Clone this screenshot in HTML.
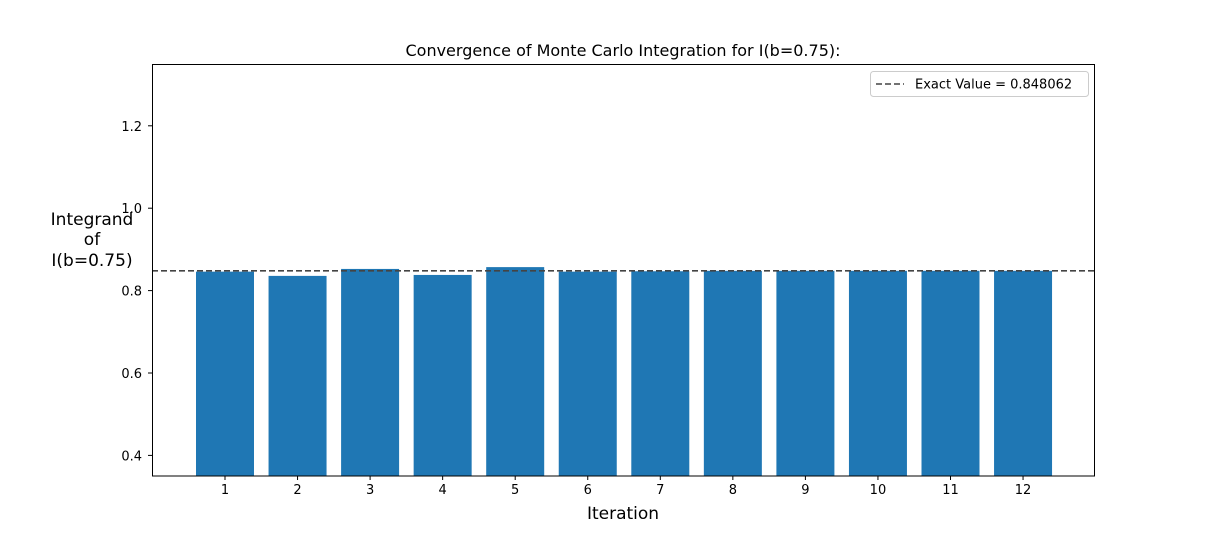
<!DOCTYPE html>
<html><head><meta charset="utf-8"><style>
body{margin:0;background:#fff;font-family:"DejaVu Sans",sans-serif}
</style></head><body>
<svg id="chart" width="1217" height="535" xmlns="http://www.w3.org/2000/svg" font-family="DejaVu Sans, Liberation Sans, sans-serif">
<rect width="1217" height="535" fill="#fff"/>
<text x="623" y="56" font-size="16" text-anchor="middle">Convergence of Monte Carlo Integration for I(b=0.75):</text>
<g id="bars"></g>
<g id="yticks"></g>
<g id="xticks"></g>
<line id="exact" x1="152" x2="1095" stroke="#444" stroke-width="1.6" stroke-dasharray="6,3"/>
<rect x="152.5" y="64.5" width="942" height="411.5" fill="none" stroke="#000" stroke-width="1"/>
<text x="623" y="519" font-size="17" text-anchor="middle">Iteration</text>
<g font-size="17" text-anchor="middle">
<text x="92" y="225">Integrand</text><text x="92" y="245">of</text><text x="92" y="266">I(b=0.75)</text></g>
<g>
<rect x="870.5" y="71.5" width="218" height="25" rx="3" fill="#fff" stroke="#ccc"/>
<line x1="876" x2="904" y1="84" y2="84" stroke="#444" stroke-width="1.6" stroke-dasharray="6,3"/>
<text x="915" y="88.5" font-size="13">Exact Value = 0.848062</text></g>
</svg>
<script>
const categories=[1,2,3,4,5,6,7,8,9,10,11,12];
const values=[0.846,0.8357,0.8526,0.838,0.857,0.846,0.847,0.848,0.848,0.848,0.848,0.848];
const exactValue=0.848062;
const yTicks=[0.4,0.6,0.8,1.0,1.2];
const yTickLabels=["0.4","0.6","0.8","1.0","1.2"];
const ns="http://www.w3.org/2000/svg";
const ymin=0.35,ymax=1.35,plotTop=64,plotBot=476;
const y=v=>plotBot-(v-ymin)/(ymax-ymin)*(plotBot-plotTop);
const x=c=>225+(c-1)*72.55;
const bw=58;
const bars=document.getElementById('bars');
categories.forEach((c,i)=>{
 const r=document.createElementNS(ns,'rect');
 
 
 r.setAttribute('x',x(c)-bw/2);r.setAttribute('width',bw);
 r.setAttribute('y',y(values[i]));r.setAttribute('height',plotBot-y(values[i]));
 r.setAttribute('fill','#1f77b4');bars.appendChild(r);
});
const xt=document.getElementById('xticks');
categories.forEach(c=>{
 const l=document.createElementNS(ns,'line');
 
 
 l.setAttribute('x1',x(c));l.setAttribute('x2',x(c));l.setAttribute('y1',plotBot);l.setAttribute('y2',plotBot+4);l.setAttribute('stroke','#000');xt.appendChild(l);
 const t=document.createElementNS(ns,'text');
 
 
 t.setAttribute('x',x(c));t.setAttribute('y',plotBot+18);t.setAttribute('font-size','13');t.setAttribute('text-anchor','middle');t.textContent=c;xt.appendChild(t);
});
const yt=document.getElementById('yticks');
yTicks.forEach((v,i)=>{
 const l=document.createElementNS(ns,'line');
 
 
 l.setAttribute('x1',148);l.setAttribute('x2',152);l.setAttribute('y1',y(v));l.setAttribute('y2',y(v));l.setAttribute('stroke','#000');yt.appendChild(l);
 const t=document.createElementNS(ns,'text');
 
 
 t.setAttribute('x',142);t.setAttribute('y',y(v)+5);t.setAttribute('font-size','13');t.setAttribute('text-anchor','end');t.textContent=yTickLabels[i];yt.appendChild(t);
});
const ex=document.getElementById('exact');
ex.setAttribute('y1',y(exactValue));ex.setAttribute('y2',y(exactValue));
</script>
</body></html>
